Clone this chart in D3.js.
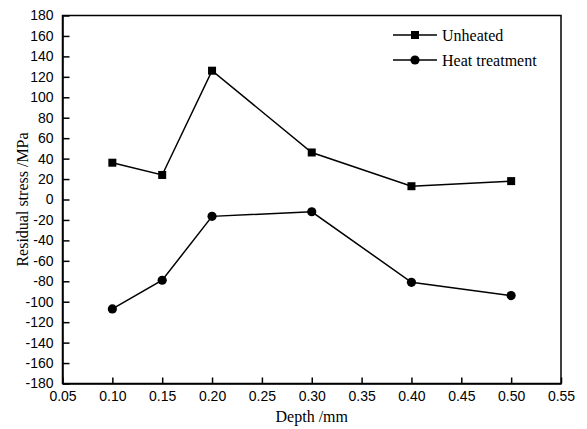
<!DOCTYPE html>
<html>
<head>
<meta charset="utf-8">
<script src="https://d3js.org/d3.v7.min.js"></script>
<style>
  body { margin: 0; background: #fff; }
  svg { display: block; }
</style>
</head>
<body>
<svg width="587" height="429"></svg>
<script>
var depth = [0.10, 0.15, 0.20, 0.30, 0.40, 0.50];
var unheated = [36, 24, 126, 46, 13, 18];
var heatTreatment = [-107, -79, -16.5, -12, -81, -94];
var seriesNames = ["Unheated", "Heat treatment"];
var xTicks = [0.05, 0.10, 0.15, 0.20, 0.25, 0.30, 0.35, 0.40, 0.45, 0.50, 0.55];
var yTicks = d3.range(-180, 181, 20);

var svg = d3.select("svg");
var plotLeft = 62.5, plotRight = 561, plotTop = 15.5, plotBottom = 383.5;

var x = d3.scaleLinear().domain([0.05, 0.55]).range([plotLeft, plotRight]);
var y = d3.scaleLinear().domain([-180, 180]).range([plotBottom, plotTop]);

// frame
svg.append("rect")
    .attr("x", plotLeft).attr("y", plotTop)
    .attr("width", plotRight - plotLeft).attr("height", plotBottom - plotTop)
    .attr("fill", "none").attr("stroke", "#000").attr("stroke-width", 1.5);

var xAxis = svg.append("g")
    .attr("transform", "translate(0," + plotBottom + ")")
    .call(d3.axisBottom(x).tickValues(xTicks).tickSizeInner(-6).tickSizeOuter(0).tickPadding(8)
        .tickFormat(d3.format(".2f")));
var yAxis = svg.append("g")
    .attr("transform", "translate(" + plotLeft + ",0)")
    .call(d3.axisLeft(y).tickValues(yTicks).tickSizeInner(-7).tickSizeOuter(0).tickPadding(9)
        .tickFormat(function(d) { return String(d); }));

[xAxis, yAxis].forEach(function(a) {
    a.select(".domain").attr("stroke", "#000").attr("stroke-width", 1.5);
    a.selectAll(".tick line").attr("stroke", "#000").attr("stroke-width", 1.5);
    a.selectAll(".tick text")
        .attr("fill", "#000")
        .attr("font-family", "Liberation Sans, Arial, sans-serif")
        .attr("font-size", "14px");
});

// axis titles
svg.append("text")
    .attr("x", (plotLeft + plotRight) / 2).attr("y", 422)
    .attr("text-anchor", "middle")
    .attr("font-family", "Liberation Serif, Times New Roman, serif")
    .attr("font-size", "16px")
    .text("Depth /mm");
svg.append("text")
    .attr("transform", "translate(28," + ((plotTop + plotBottom) / 2) + ") rotate(-90)")
    .attr("text-anchor", "middle")
    .attr("font-family", "Liberation Serif, Times New Roman, serif")
    .attr("font-size", "16px")
    .text("Residual stress /MPa");

var line = d3.line()
    .x(function(d) { return x(d[0]); })
    .y(function(d) { return y(d[1]); });

var s1 = d3.zip(depth, unheated);
var s2 = d3.zip(depth, heatTreatment);

svg.append("path").datum(s1).attr("d", line)
    .attr("fill", "none").attr("stroke", "#000").attr("stroke-width", 1.5);
svg.append("path").datum(s2).attr("d", line)
    .attr("fill", "none").attr("stroke", "#000").attr("stroke-width", 1.5);

svg.append("g").selectAll("rect").data(s1).enter().append("rect")
    .attr("x", function(d) { return x(d[0]) - 4; })
    .attr("y", function(d) { return y(d[1]) - 4; })
    .attr("width", 8).attr("height", 8).attr("fill", "#000");
svg.append("g").selectAll("circle").data(s2).enter().append("circle")
    .attr("cx", function(d) { return x(d[0]); })
    .attr("cy", function(d) { return y(d[1]); })
    .attr("r", 4.6).attr("fill", "#000");

// legend
var legend = svg.append("g").selectAll("g").data(seriesNames).enter().append("g")
    .attr("transform", function(d, i) { return "translate(393," + (35 + i * 25) + ")"; });
legend.append("line")
    .attr("x1", 0).attr("x2", 44).attr("y1", 0).attr("y2", 0)
    .attr("stroke", "#000").attr("stroke-width", 1.5);
legend.filter(function(d, i) { return i === 0; }).append("rect")
    .attr("x", 18).attr("y", -4).attr("width", 8).attr("height", 8).attr("fill", "#000");
legend.filter(function(d, i) { return i === 1; }).append("circle")
    .attr("cx", 22).attr("cy", 0).attr("r", 4.6).attr("fill", "#000");
legend.append("text")
    .attr("x", 49).attr("y", 0).attr("dy", "0.35em")
    .attr("font-family", "Liberation Serif, Times New Roman, serif")
    .attr("font-size", "16px")
    .text(function(d) { return d; });
</script>
</body>
</html>
